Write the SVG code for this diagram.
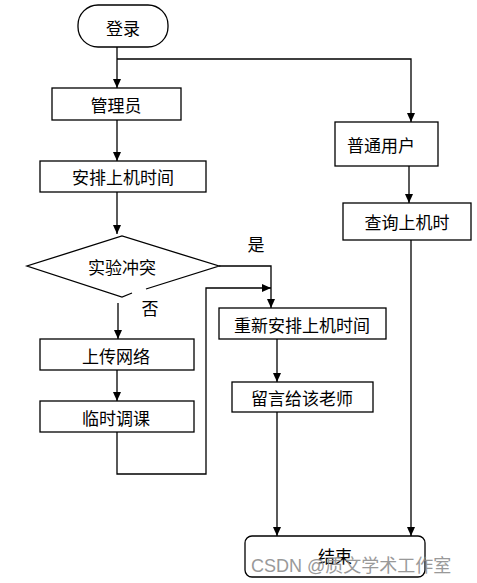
<svg xmlns="http://www.w3.org/2000/svg" width="477" height="583" viewBox="0 0 477 583">
<style>
.box{fill:#fff;stroke:#000;stroke-width:1.3}
.lbl{font-family:"Noto Sans CJK SC","Liberation Sans",sans-serif;font-size:17px;fill:#000;text-anchor:middle;dominant-baseline:central}
.ln{fill:none;stroke:#000;stroke-width:1.3}
.wm{font-family:"Liberation Sans","Noto Sans CJK SC",sans-serif;font-size:18px;fill:#888;opacity:0.85}
</style>
<defs>
<marker id="ah" markerWidth="10" markerHeight="10" refX="9" refY="4" orient="auto" markerUnits="userSpaceOnUse">
<path d="M0,0 L9,4 L0,8 Z" fill="#000"/>
</marker>
</defs>
<rect width="477" height="583" fill="#fff"/>
<g id="connectors">
<path class="ln" d="M117,47 V88" marker-end="url(#ah)"/>
<path class="ln" d="M117,59 H411 V122" marker-end="url(#ah)"/>
<path class="ln" d="M117,120 V161" marker-end="url(#ah)"/>
<path class="ln" d="M117,192 V234" marker-end="url(#ah)"/>
<path class="ln" d="M409,166 V203" marker-end="url(#ah)"/>
<path class="ln" d="M411,240 V536" stroke="#444" marker-end="url(#ah)"/>
<path class="ln" d="M219,266 H271 V308" marker-end="url(#ah)"/>
<path class="ln" d="M118,303 V339" marker-end="url(#ah)"/>
<path class="ln" d="M117,370 V401" marker-end="url(#ah)"/>
<path class="ln" d="M117,432 V474 H206 V288 H271" marker-end="url(#ah)"/>
<path class="ln" d="M277,339 V382" marker-end="url(#ah)"/>
<path class="ln" d="M277,412 V536" marker-end="url(#ah)"/>
<text class="lbl" x="256" y="243">是</text>
<text class="lbl" x="150" y="307">否</text>
</g>
<g id="start">
<rect class="box" x="78" y="5" width="90" height="42" rx="20" ry="20"/>
<text class="lbl" x="123" y="27">登录</text>
</g>
<g id="admin">
<rect class="box" x="52" y="88" width="129" height="32"/>
<text class="lbl" x="116" y="104">管理员</text>
</g>
<g id="arrange">
<rect class="box" x="40" y="161" width="166" height="31"/>
<text class="lbl" x="123" y="176">安排上机时间</text>
</g>
<g id="user">
<rect class="box" x="335" y="122" width="103" height="44"/>
<text class="lbl" x="381" y="144">普通用户</text>
</g>
<g id="query">
<rect class="box" x="343" y="203" width="128" height="37"/>
<text class="lbl" x="407" y="221">查询上机时</text>
</g>
<g id="decision">
<path class="ln" d="M132,293 L122,297 L27,266 L122,236 L219,266 L146,289"/>
<text class="lbl" x="122" y="266">实验冲突</text>
</g>
<g id="rearrange">
<rect class="box" x="219" y="308" width="167" height="31"/>
<text class="lbl" x="302" y="324">重新安排上机时间</text>
</g>
<g id="message">
<rect class="box" x="232" y="382" width="141" height="30"/>
<text class="lbl" x="302" y="397">留言给该老师</text>
</g>
<g id="upload">
<rect class="box" x="40" y="339" width="154" height="31"/>
<text class="lbl" x="116" y="355">上传网络</text>
</g>
<g id="adjust">
<rect class="box" x="40" y="401" width="154" height="31"/>
<text class="lbl" x="116" y="417">临时调课</text>
</g>
<g id="end">
<rect class="box" x="245" y="536" width="180" height="41" rx="7" ry="7"/>
<text class="lbl" x="335" y="555">结束</text>
</g>
<text class="wm" x="251" y="572">CSDN @质文学术工作室</text>
</svg>
